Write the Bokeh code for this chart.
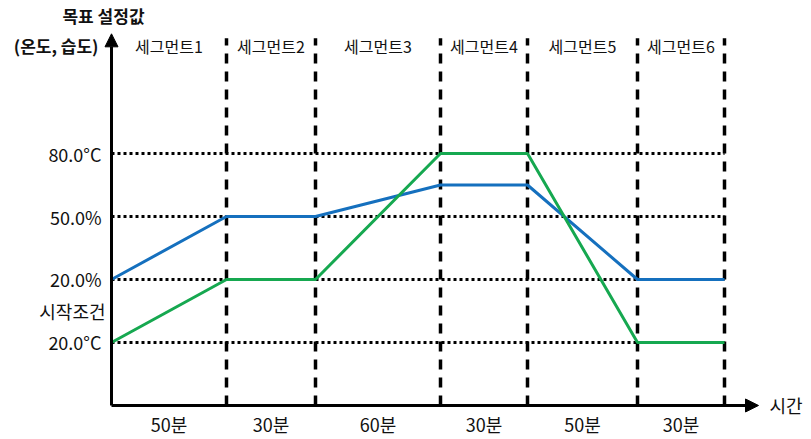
from bokeh.plotting import figure
from bokeh.models import Range1d, Arrow, NormalHead
from bokeh.core.properties import value
from bokeh.embed import file_html
from bokeh.resources import INLINE
import numpy as np

# ---- data ----
segment_names = ["세그먼트1", "세그먼트2", "세그먼트3", "세그먼트4", "세그먼트5", "세그먼트6"]
segment_durations = ["50분", "30분", "60분", "30분", "50분", "30분"]
# schematic width of each segment on the time axis (drawing is not to scale)
segment_span = [115, 89, 125, 87, 110, 87]
# reference levels on the (schematic) value axis
level_pos = [1, 2, 3, 4]
level_labels = ["20.0°C", "20.0%", "50.0%", "80.0°C"]
start_label = "시작조건"
start_label_pos = 1.5
# set-point at each segment boundary (start, end of seg1..seg6)
humidity = [2, 3, 3, 3.5, 3.5, 2, 2]
temperature = [1, 2, 2, 4, 4, 1, 1]

FONT = value("Noto Sans CJK KR")
BLUE = "#1570BE"
GREEN = "#16A850"
INK = "#111111"

bounds = np.concatenate([[0], np.cumsum(segment_span)])
x_end = bounds[-1]

p = figure(width=811, height=439, output_backend="svg", toolbar_location=None,
           x_range=Range1d(-111, 700), y_range=Range1d(-0.54, 6.429),
           min_border=0, outline_line_color=None)
p.axis.visible = False
p.grid.visible = False

# dotted reference lines
p.segment(x0=[0] * len(level_pos), y0=level_pos, x1=[x_end] * len(level_pos), y1=level_pos,
          line_color="black", line_width=3, line_dash="3 3")

# dashed segment boundaries
vb = bounds[1:]
p.segment(x0=vb, y0=[0] * len(vb), x1=vb, y1=[5.83] * len(vb),
          line_color="black", line_width=3.5, line_dash="10 8")

# series
p.line(bounds, humidity, line_color=BLUE, line_width=3)
p.line(bounds, temperature, line_color=GREEN, line_width=3)

# axes with arrows
p.add_layout(Arrow(x_start=0, y_start=0, x_end=0, y_end=5.9,
                   line_color="black", line_width=3,
                   end=NormalHead(size=13, fill_color="black", line_color="black")))
p.add_layout(Arrow(x_start=0, y_start=0, x_end=647, y_end=0,
                   line_color="black", line_width=3,
                   end=NormalHead(size=13, fill_color="black", line_color="black")))

# level labels
p.text(x=[-10] * len(level_pos), y=level_pos, text=level_labels, text_font=FONT,
       text_font_size="18px", text_align="right", text_baseline="middle", text_color=INK)
p.text(x=[-6], y=[start_label_pos], text=[start_label], text_font=FONT,
       text_font_size="18px", text_align="right", text_baseline="middle", text_color=INK)

# segment labels and durations
mids = (bounds[:-1] + bounds[1:]) / 2
p.text(x=mids, y=[5.71] * len(mids), text=segment_names, text_font=FONT,
       text_font_size="16px", text_align="center", text_baseline="middle", text_color=INK)
p.text(x=mids, y=[-0.30] * len(mids), text=segment_durations, text_font=FONT,
       text_font_size="18px", text_align="center", text_baseline="middle", text_color=INK)

# axis titles
p.text(x=[-8], y=[6.19], text=["목표 설정값"], text_font=FONT, text_font_size="17px",
       text_font_style="bold", text_align="center", text_baseline="middle", text_color=INK)
p.text(x=[-13], y=[5.71], text=["(온도, 습도)"], text_font=FONT, text_font_size="17px",
       text_font_style="bold", text_align="right", text_baseline="middle", text_color=INK)
p.text(x=[658], y=[0], text=["시간"], text_font=FONT, text_font_size="18px",
       text_align="left", text_baseline="middle", text_color=INK)

open("out.html", "w").write(file_html(p, INLINE))
